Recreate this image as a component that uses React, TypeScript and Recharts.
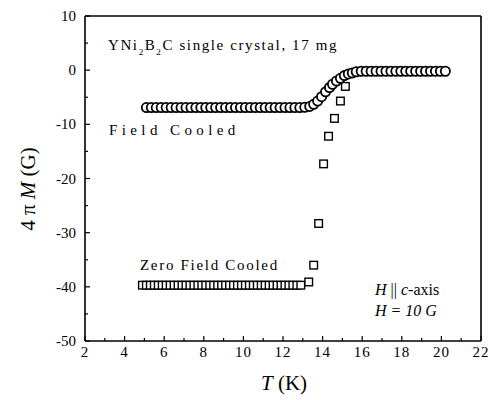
import React from "react";
import { ScatterChart, Scatter, XAxis, YAxis, Customized } from "recharts";

// Field cooled (circles)
const fcTemps = [
  5.1, 5.35, 5.6, 5.85, 6.1, 6.35, 6.6, 6.85, 7.1, 7.35, 7.6, 7.85, 8.1, 8.35, 8.6, 8.85,
  9.1, 9.35, 9.6, 9.85, 10.1, 10.35, 10.6, 10.85, 11.1, 11.35, 11.6, 11.85, 12.1, 12.35,
  12.6, 12.85, 13.1, 13.35, 13.55, 13.75, 13.95, 14.15, 14.35, 14.5, 14.7, 14.9, 15.1,
  15.3, 15.5, 15.7, 15.95, 16.2, 16.45, 16.7, 16.95, 17.2, 17.45, 17.7, 17.95, 18.2,
  18.45, 18.7, 18.95, 19.2, 19.45, 19.7, 19.95, 20.2,
];
const fcMoment = [
  -6.9, -6.9, -6.9, -6.9, -6.9, -6.9, -6.9, -6.9, -6.9, -6.9, -6.9, -6.9, -6.9, -6.9, -6.9, -6.9,
  -6.9, -6.9, -6.9, -6.9, -6.9, -6.9, -6.9, -6.9, -6.9, -6.9, -6.9, -6.9, -6.9, -6.9,
  -6.9, -6.9, -6.85, -6.7, -6.3, -5.7, -4.9, -4.0, -3.2, -2.6, -2.0, -1.5, -1.0,
  -0.7, -0.5, -0.3, -0.2, -0.2, -0.2, -0.2, -0.2, -0.2, -0.2, -0.2, -0.2, -0.2,
  -0.2, -0.2, -0.2, -0.2, -0.2, -0.2, -0.2, -0.2,
];

// Zero field cooled (squares)
const zfcTemps = [
  4.9, 5.1, 5.3, 5.5, 5.7, 5.9, 6.1, 6.3, 6.5, 6.7, 6.9, 7.1, 7.3, 7.5, 7.7, 7.9, 8.1,
  8.3, 8.5, 8.7, 8.9, 9.1, 9.3, 9.5, 9.7, 9.9, 10.1, 10.3, 10.5, 10.7, 10.9, 11.1, 11.3,
  11.5, 11.7, 11.9, 12.1, 12.3, 12.5, 12.7, 12.9, 13.3, 13.55, 13.8, 14.05, 14.3, 14.6,
  14.9, 15.15,
];
const zfcMoment = [
  -39.7, -39.7, -39.7, -39.7, -39.7, -39.7, -39.7, -39.7, -39.7, -39.7, -39.7, -39.7,
  -39.7, -39.7, -39.7, -39.7, -39.7, -39.7, -39.7, -39.7, -39.7, -39.7, -39.7, -39.7,
  -39.7, -39.7, -39.7, -39.7, -39.7, -39.7, -39.7, -39.7, -39.7, -39.7, -39.7, -39.7,
  -39.7, -39.7, -39.7, -39.7, -39.7, -39.1, -36.0, -28.3, -17.3, -12.2, -8.9, -5.7, -3.0,
];

const xTicks = [2, 3, 4, 5, 6, 7, 8, 9, 10, 11, 12, 13, 14, 15, 16, 17, 18, 19, 20, 21, 22];
const yTicks = [-50, -45, -40, -35, -30, -25, -20, -15, -10, -5, 0, 5, 10];

const fcData = fcTemps.map((t, i) => ({ t, m: fcMoment[i] }));
const zfcData = zfcTemps.map((t, i) => ({ t, m: zfcMoment[i] }));

const FONT = "'Liberation Serif', 'Times New Roman', serif";

const Circle = ({ cx, cy }: any) => (
  <circle cx={cx} cy={cy} r={4.6} fill="#fff" stroke="#000" strokeWidth={1.8} />
);

const Square = ({ cx, cy }: any) => (
  <rect x={cx - 3.8} y={cy - 3.8} width={7.6} height={7.6} fill="#fff" stroke="#000" strokeWidth={1.4} />
);

const BottomTick = ({ x, y, payload }: any) => {
  const major = payload.value % 2 === 0;
  return (
    <g>
      <line x1={x} y1={y} x2={x} y2={y - (major ? 5 : 3)} stroke="#000" strokeWidth={1.2} />
      {major && (
        <text x={x} y={y + 16} textAnchor="middle" fontFamily={FONT} fontSize={15} letterSpacing={1} fill="#000">
          {payload.value}
        </text>
      )}
    </g>
  );
};

const TopTick = ({ x, y, payload }: any) => {
  const major = payload.value % 2 === 0;
  return <line x1={x} y1={y} x2={x} y2={y + (major ? 5 : 3)} stroke="#000" strokeWidth={1.2} />;
};

const LeftTick = ({ x, y, payload }: any) => {
  const major = payload.value % 10 === 0;
  return (
    <g>
      <line x1={x} y1={y} x2={x + (major ? 5 : 3)} y2={y} stroke="#000" strokeWidth={1.2} />
      {major && (
        <text x={x - 9} y={y + 5} textAnchor="end" fontFamily={FONT} fontSize={15} fill="#000">
          {payload.value}
        </text>
      )}
    </g>
  );
};

const RightTick = ({ x, y, payload }: any) => {
  const major = payload.value % 10 === 0;
  return <line x1={x} y1={y} x2={x - (major ? 5 : 3)} y2={y} stroke="#000" strokeWidth={1.2} />;
};

const Annotations = () => (
  <g fontFamily={FONT} fill="#000">
    <text x={108} y={50} fontSize={15} letterSpacing={1.6}>
      YNi<tspan baselineShift="sub" fontSize={9}>2</tspan>B<tspan baselineShift="sub" fontSize={9}>2</tspan>C single crystal, 17 mg
    </text>
    <text x={109} y={135} fontSize={15} letterSpacing={4.4}>Field Cooled</text>
    <text x={140} y={270} fontSize={15} letterSpacing={1.7}>Zero Field Cooled</text>
    <text x={375} y={295} fontSize={16}>
      <tspan fontStyle="italic">H</tspan> || <tspan fontStyle="italic">c</tspan>-axis
    </text>
    <text x={375} y={316} fontSize={16} fontStyle="italic">H = 10 G</text>
    <text x={35} y={189} fontSize={21} textAnchor="middle" transform="rotate(-90 35 189)">
      4 π <tspan fontStyle="italic">M</tspan> (G)
    </text>
    <text x={284} y={390} fontSize={21} textAnchor="middle">
      <tspan fontStyle="italic">T</tspan> (K)
    </text>
  </g>
);

const axisStroke = { stroke: "#000", strokeWidth: 1.6 };

export default function App() {
  return (
    <div style={{ position: "absolute", left: 0, top: 0, width: 490, height: 400, background: "#fff" }}>
      <ScatterChart width={490} height={400} margin={{ top: 15, right: 8, bottom: 58, left: 84 }}>
        <XAxis
          dataKey="t"
          type="number"
          domain={[2, 22]}
          ticks={xTicks}
          interval={0}
          allowDataOverflow
          height={1}
          tickSize={0}
          tickMargin={0}
          tick={<BottomTick />}
          axisLine={axisStroke}
          tickLine={false}
        />
        <XAxis
          xAxisId="top"
          orientation="top"
          type="number"
          domain={[2, 22]}
          ticks={xTicks}
          interval={0}
          height={1}
          tickSize={0}
          tickMargin={0}
          tick={<TopTick />}
          axisLine={axisStroke}
          tickLine={false}
        />
        <YAxis
          dataKey="m"
          type="number"
          domain={[-50, 10]}
          ticks={yTicks}
          interval={0}
          allowDataOverflow
          width={1}
          tickSize={0}
          tickMargin={0}
          tick={<LeftTick />}
          axisLine={axisStroke}
          tickLine={false}
        />
        <YAxis
          yAxisId="right"
          orientation="right"
          type="number"
          domain={[-50, 10]}
          ticks={yTicks}
          interval={0}
          width={1}
          tickSize={0}
          tickMargin={0}
          tick={<RightTick />}
          axisLine={axisStroke}
          tickLine={false}
        />
        <Scatter data={zfcData} dataKey="m" shape={<Square />} isAnimationActive={false} />
        <Scatter data={fcData} dataKey="m" shape={<Circle />} isAnimationActive={false} />
        <Customized component={<Annotations />} />
      </ScatterChart>
    </div>
  );
}
